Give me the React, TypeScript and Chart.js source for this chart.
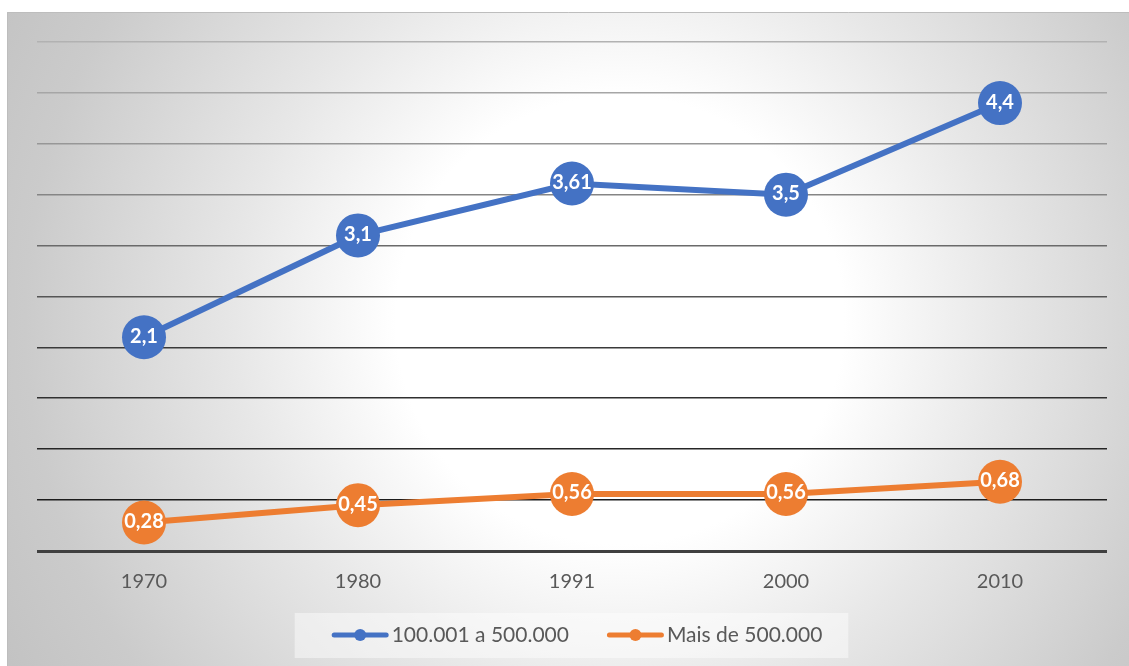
import React, { useEffect, useRef } from "react";
import { Chart, registerables } from "chart.js";

Chart.register(...registerables);

const categories = ["1970", "1980", "1991", "2000", "2010"];
const seriesA = [2.1, 3.1, 3.61, 3.5, 4.4];
const seriesB = [0.28, 0.45, 0.56, 0.56, 0.68];
const seriesNames = ["100.001 a 500.000", "Mais de 500.000"];
const seriesColors = ["#4472C4", "#ED7D31"];
const yTicks = [0, 0.5, 1, 1.5, 2, 2.5, 3, 3.5, 4, 4.5, 5];
const gridColors = ["#404040", "#1c1c1c", "#262626", "#303030", "#3a3a3a", "#555555", "#6a6a6a", "#858585", "#979797", "#a6a6a6", "#b2b2b2"];

const W = 1129;
const H = 666;
const FONT = "Lato, 'Open Sans', sans-serif";

const bgPlugin = {
  id: "bgPlugin",
  beforeDraw(chart: any) {
    const ctx = chart.ctx as CanvasRenderingContext2D;
    ctx.save();
    ctx.fillStyle = "#ffffff";
    ctx.fillRect(0, 0, W, H);
    const grd = ctx.createRadialGradient(620, 320, 0, 620, 320, 700);
    grd.addColorStop(0, "#ffffff");
    grd.addColorStop(0.32, "#ffffff");
    grd.addColorStop(0.55, "#e7e7e7");
    grd.addColorStop(0.85, "#cbcbcb");
    grd.addColorStop(1, "#c3c3c3");
    ctx.fillStyle = grd;
    ctx.fillRect(7, 12, W - 7, H - 12);
    ctx.strokeStyle = "#bdbdbd";
    ctx.lineWidth = 1;
    ctx.beginPath();
    ctx.moveTo(7.5, H);
    ctx.lineTo(7.5, 12.5);
    ctx.lineTo(W, 12.5);
    ctx.stroke();
    ctx.restore();
  },
};

const legendPlugin = {
  id: "customLegend",
  afterDraw(chart: any) {
    const ctx = chart.ctx as CanvasRenderingContext2D;
    ctx.save();
    ctx.font = `21px ${FONT}`;
    const iconW = 57;
    const gapIconText = 3;
    const gapItems = 38;
    const widths = seriesNames.map((n) => ctx.measureText(n).width);
    const total = widths.reduce((a, w) => a + iconW + gapIconText + w, 0) + gapItems * (seriesNames.length - 1);
    const cx = 577;
    const cy = 635;
    let x = cx - total / 2;
    ctx.fillStyle = "rgba(255,255,255,0.45)";
    ctx.fillRect(x - 37, cy - 22, total + 37 + 26, 45);
    seriesNames.forEach((n, i) => {
      const c = seriesColors[i];
      ctx.strokeStyle = c;
      ctx.lineWidth = 5;
      ctx.lineCap = "round";
      ctx.beginPath();
      ctx.moveTo(x + 2.5, cy);
      ctx.lineTo(x + iconW - 2.5, cy);
      ctx.stroke();
      ctx.fillStyle = c;
      ctx.beginPath();
      ctx.arc(x + iconW / 2, cy, 6, 0, Math.PI * 2);
      ctx.fill();
      ctx.fillStyle = "#595959";
      ctx.textAlign = "left";
      ctx.textBaseline = "middle";
      ctx.fillText(n, x + iconW + gapIconText, cy);
      x += iconW + gapIconText + widths[i] + gapItems;
    });
    ctx.restore();
  },
};

const labelPlugin = {
  id: "labelPlugin",
  afterDatasetsDraw(chart: any) {
    const ctx = chart.ctx as CanvasRenderingContext2D;
    ctx.save();
    ctx.fillStyle = "#ffffff";
    ctx.font = `bold 20px ${FONT}`;
    ctx.textAlign = "center";
    ctx.textBaseline = "middle";
    chart.data.datasets.forEach((ds: any, di: number) => {
      const meta = chart.getDatasetMeta(di);
      meta.data.forEach((pt: any, i: number) => {
        const txt = String(ds.data[i]).replace(".", ",");
        ctx.fillText(txt, pt.x, pt.y - 1);
      });
    });
    ctx.restore();
  },
};

export default function App() {
  const ref = useRef<HTMLCanvasElement | null>(null);
  useEffect(() => {
    if (!ref.current) return;
    const chart = new Chart(ref.current, {
      type: "line",
      data: {
        labels: categories,
        datasets: [seriesA, seriesB].map((d, i) => ({
          label: seriesNames[i],
          data: d,
          borderColor: seriesColors[i],
          backgroundColor: seriesColors[i],
          borderWidth: 6,
          pointRadius: 22,
          pointHoverRadius: 22,
          pointBorderWidth: 0,
          pointBackgroundColor: seriesColors[i],
          tension: 0,
          clip: false as any,
        })),
      },
      options: {
        responsive: false,
        animation: false,
        layout: { padding: { left: 37, right: 17, top: 42, bottom: 70 } },
        scales: {
          x: {
            offset: true,
            grid: { display: false },
            border: { display: false },
            ticks: { color: "#595959", font: { family: FONT, size: 20 }, padding: 11 },
            afterFit: (s: any) => {
              s.height = 45;
              s.paddingLeft = 0;
              s.paddingRight = 0;
            },
          },
          y: {
            min: 0,
            max: 5,
            afterBuildTicks: (s: any) => {
              s.ticks = yTicks.map((v) => ({ value: v }));
            },
            ticks: { display: false },
            border: { display: false },
            grid: {
              drawTicks: false,
              color: (c: any) => gridColors[yTicks.indexOf(c.tick?.value)] || "#888",
              lineWidth: (c: any) => (c.tick?.value === 0 ? 3 : 1.6),
            },
            afterFit: (s: any) => {
              s.width = 0;
              s.paddingTop = 0;
              s.paddingBottom = 0;
            },
          },
        },
        plugins: {
          legend: { display: false },
          tooltip: { enabled: false },
        },
      },
      plugins: [bgPlugin, labelPlugin, legendPlugin],
    });
    return () => chart.destroy();
  }, []);
  return (
    <div style={{ position: "fixed", left: 0, top: 0, width: W, height: H }}>
      <canvas ref={ref} width={W} height={H} style={{ display: "block" }} />
    </div>
  );
}
